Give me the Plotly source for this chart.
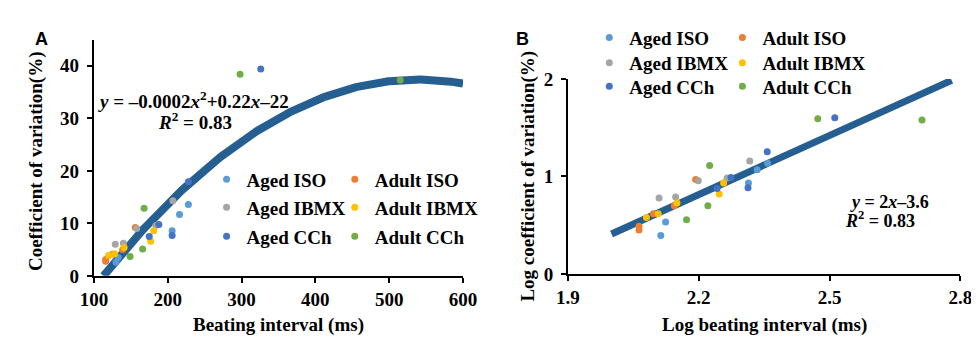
import numpy as np
import plotly.graph_objects as go

W, H = 979, 337

SERIES = ["Aged ISO", "Adult ISO", "Aged IBMX", "Adult IBMX", "Aged CCh", "Adult CCh"]
COLORS = ["#5B9BD5", "#ED7D31", "#A5A5A5", "#FFC000", "#4472C4", "#70AD47"]

# Panel A: beating interval (ms) vs coefficient of variation (%)
aged_iso_x = [228, 216, 206, 133, 130]
aged_iso_y = [13.6, 11.7, 8.6, 3.5, 2.6]
adult_iso_x = [156, 139, 125, 116, 116]
adult_iso_y = [9.2, 5.0, 4.1, 3.1, 2.8]
aged_ibmx_x = [207, 184, 158, 140, 129]
aged_ibmx_y = [14.3, 9.6, 9.0, 6.2, 6.0]
adult_ibmx_x = [181, 177, 141, 128, 120]
adult_ibmx_y = [8.6, 6.6, 5.4, 4.2, 3.9]
aged_cch_x = [228, 206, 188, 175, 326]
aged_cch_y = [17.9, 7.7, 9.8, 7.5, 39.4]
adult_cch_x = [168, 166, 149, 298, 515]
adult_cch_y = [12.9, 5.1, 3.7, 38.4, 37.3]

# Panel B: log beating interval vs log coefficient of variation
log_aged_iso_x = [2.358, 2.334, 2.314, 2.124, 2.113]
log_aged_iso_y = [1.135, 1.068, 0.932, 0.533, 0.394]
log_adult_iso_x = [2.193, 2.144, 2.096, 2.063, 2.063]
log_adult_iso_y = [0.968, 0.700, 0.617, 0.490, 0.452]
log_aged_ibmx_x = [2.317, 2.265, 2.199, 2.147, 2.109]
log_aged_ibmx_y = [1.158, 0.984, 0.955, 0.790, 0.778]
log_adult_ibmx_x = [2.257, 2.247, 2.150, 2.107, 2.080]
log_adult_ibmx_y = [0.932, 0.820, 0.727, 0.617, 0.578]
log_aged_cch_x = [2.357, 2.313, 2.274, 2.242, 2.512]
log_aged_cch_y = [1.254, 0.884, 0.990, 0.877, 1.602]
log_adult_cch_x = [2.225, 2.221, 2.172, 2.473, 2.712]
log_adult_cch_y = [1.113, 0.700, 0.556, 1.592, 1.580]

# Trend lines (fitted equations as drawn)
TREND_A_COEF = [-0.000206, 0.2221, -22.48]
TREND_A_XRANGE = [113, 600]
TREND_B_COEF = [2.02, -3.63]
TREND_B_XRANGE = [2.0, 2.78]
TREND_COLOR = "#255E91"

A_X = [aged_iso_x, adult_iso_x, aged_ibmx_x, adult_ibmx_x, aged_cch_x, adult_cch_x]
A_Y = [aged_iso_y, adult_iso_y, aged_ibmx_y, adult_ibmx_y, aged_cch_y, adult_cch_y]
B_X = [log_aged_iso_x, log_adult_iso_x, log_aged_ibmx_x, log_adult_ibmx_x, log_aged_cch_x, log_adult_cch_x]
B_Y = [log_aged_iso_y, log_adult_iso_y, log_aged_ibmx_y, log_adult_ibmx_y, log_aged_cch_y, log_adult_cch_y]

SERIF = "Liberation Serif"

def fx(p):
    return p / W

def fy(p):
    return 1 - p / H

# legend item placement (pixels): column left edges and row centres
A_LEG_COLS = [190, 322]
A_LEG_ROWS = [172, 202, 233]
B_LEG_COLS = [584, 721]
B_LEG_ROWS = [21, 48, 73]

fig = go.Figure()

xa = np.linspace(TREND_A_XRANGE[0], TREND_A_XRANGE[1], 300)
fig.add_trace(go.Scatter(x=xa, y=np.polyval(TREND_A_COEF, xa), mode="lines",
                         line=dict(color=TREND_COLOR, width=8), showlegend=False,
                         hoverinfo="skip", xaxis="x", yaxis="y"))
xb = np.array(TREND_B_XRANGE)
fig.add_trace(go.Scatter(x=xb, y=np.polyval(TREND_B_COEF, xb), mode="lines",
                         line=dict(color=TREND_COLOR, width=7), showlegend=False,
                         hoverinfo="skip", xaxis="x2", yaxis="y2"))

legfont = dict(family=SERIF, size=19, color="black", weight="bold")
legends = {}

def make_leg(x, y):
    return dict(x=fx(x), y=fy(y), xref="paper", yref="paper", xanchor="left",
                yanchor="middle", font=legfont, bgcolor="rgba(0,0,0,0)",
                itemclick=False, itemdoubleclick=False)

for i, name in enumerate(SERIES):
    col, row = i % 2, i // 2
    ka = "legend" if i == 0 else "legend%d" % (i + 1)
    kb = "legend%d" % (i + 7)
    legends[ka] = make_leg(A_LEG_COLS[col], A_LEG_ROWS[row])
    legends[kb] = make_leg(B_LEG_COLS[col], B_LEG_ROWS[row])
    fig.add_trace(go.Scatter(x=A_X[i], y=A_Y[i], mode="markers", name=name,
                             marker=dict(color=COLORS[i], size=7),
                             legend=ka, xaxis="x", yaxis="y"))
    fig.add_trace(go.Scatter(x=B_X[i], y=B_Y[i], mode="markers", name=name,
                             marker=dict(color=COLORS[i], size=7),
                             legend=kb, xaxis="x2", yaxis="y2"))

tickfont = dict(family=SERIF, size=19, color="black", weight="bold")
axis_common = dict(showline=True, linecolor="black", linewidth=2, ticks="outside",
                   ticklen=5, tickwidth=2, tickcolor="black", showgrid=False,
                   zeroline=False, tickfont=tickfont)

fig.update_layout(
    width=W, height=H, autosize=False,
    margin=dict(l=0, r=0, t=0, b=0),
    paper_bgcolor="white", plot_bgcolor="white",
    xaxis=dict(domain=[fx(74), fx(454)], range=[100, 600],
               tickvals=[100, 200, 300, 400, 500, 600], anchor="y", **axis_common),
    yaxis=dict(domain=[fy(275), fy(23)], range=[0, 45],
               tickvals=[0, 10, 20, 30, 40], anchor="x", ticklabelstandoff=4, **axis_common),
    xaxis2=dict(domain=[fx(562), fx(966)], range=[1.9, 2.8],
                tickvals=[1.9, 2.2, 2.5, 2.8], ticktext=["1.9", "2.2", "2.5", "2.8"],
                anchor="y2", **axis_common),
    yaxis2=dict(domain=[fy(273), fy(65)], range=[0, 2],
                tickvals=[0, 1, 2], anchor="x2", ticklabelstandoff=4, **axis_common),
    showlegend=True,
    **legends,
)

ann = []
def text(t, x, y, size=19, family=SERIF, angle=0, xanchor="center"):
    ann.append(dict(text=t, x=fx(x), y=fy(y), xref="paper", yref="paper",
                    showarrow=False, xanchor=xanchor, yanchor="middle", textangle=angle,
                    font=dict(family=family, size=size, color="black")))

text("<b>A</b>", 20, 22, size=18, family="Liberation Sans")
text("<b>B</b>", 515, 22, size=18, family="Liberation Sans")
text("<b><i>y</i> = –0.0002<i>x</i><sup>2</sup>+0.22<i>x</i>–22</b>", 76, 87, xanchor="left")
text("<b><i>R</i><sup>2</sup> = 0.83</b>", 138, 110, xanchor="left")
text("<b><i>y</i> = 2<i>x</i>–3.6</b>", 850, 196, size=18, xanchor="left")
text("<b><i>R</i><sup>2</sup> = 0.83</b>", 845, 215, size=18, xanchor="left")
text("<b>Beating interval (ms)</b>", 264, 327)
text("<b>Log beating interval (ms)</b>", 764, 327)
text("<b>Coefficient of variation(%)</b>", 15, 153, angle=-90)
text("<b>Log coefficient of variation(%)</b>", 521, 169, angle=-90)
fig.update_layout(annotations=ann)

fig.write_html("out.html")
